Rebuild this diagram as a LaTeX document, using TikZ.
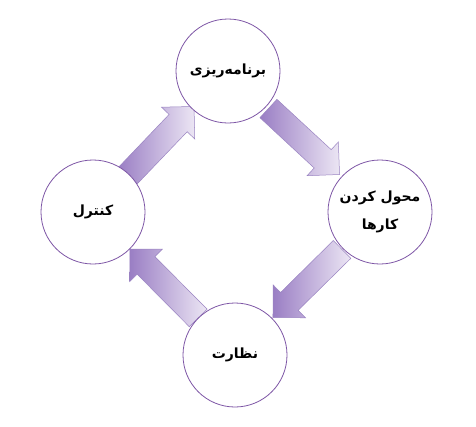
\documentclass[tikz,border=0pt]{standalone}
\usepackage{fontspec}
\TeXXeTstate=1
\newfontfamily\arabicfont[Script=Arabic]{DejaVu Sans}
\usetikzlibrary{calc}
\definecolor{circlec}{HTML}{7E57A6}
\definecolor{arrdark}{HTML}{9A7EC4}
\definecolor{arrlight}{HTML}{ECE6F4}
\definecolor{arredge}{HTML}{9A84C2}
\newcommand{\cyclearrow}[2]{%
  \coordinate (m#1#2) at ($(#1)!0.5!(#2)$);
  \coordinate (t#1#2) at ($(m#1#2)!48.5pt!(#1)$);
  \coordinate (p#1#2) at ($(m#1#2)!48.5pt!(#2)$);
  \coordinate (b#1#2) at ($(p#1#2)!23pt!(t#1#2)$);
  \draw[blockarrow]
    ($(t#1#2)!12.5pt!90:(p#1#2)$) --
    ($(b#1#2)!12.5pt!90:(p#1#2)$) --
    ($(b#1#2)!23pt!90:(p#1#2)$) --
    (p#1#2) --
    ($(b#1#2)!23pt!-90:(p#1#2)$) --
    ($(b#1#2)!12.5pt!-90:(p#1#2)$) --
    ($(t#1#2)!12.5pt!-90:(p#1#2)$) -- cycle;
}
\begin{document}
\begin{tikzpicture}[x=1pt,y=-1pt]
\tikzset{
  stage/.style={circle,draw=circlec,line width=0.8pt,fill=white,
    minimum size=104pt,inner sep=0pt,align=center,
    font=\arabicfont\bfseries\fontsize{14}{28}\selectfont},
  blockarrow/.style={draw=arredge,line width=0.5pt,
    left color=arrdark,right color=arrlight}
}
\fill[white] (0,0) rectangle (476,426);
\useasboundingbox (0,0) rectangle (476,426);
\coordinate (P) at (228,71);
\coordinate (R) at (380,212);
\coordinate (B) at (235,355);
\coordinate (L) at (93,212);
\cyclearrow{L}{P}
\cyclearrow{P}{R}
\cyclearrow{R}{B}
\cyclearrow{B}{L}
\node[stage] (plan) at (P) {\beginR برنامه‌ریزی\endR};
\node[stage] (assign) at (R) {\beginR محول کردن\endR\\\beginR کارها\endR};
\node[stage] (monitor) at (B) {\beginR نظارت\endR};
\node[stage] (control) at (L) {\beginR کنترل\endR};
\end{tikzpicture}
\end{document}
